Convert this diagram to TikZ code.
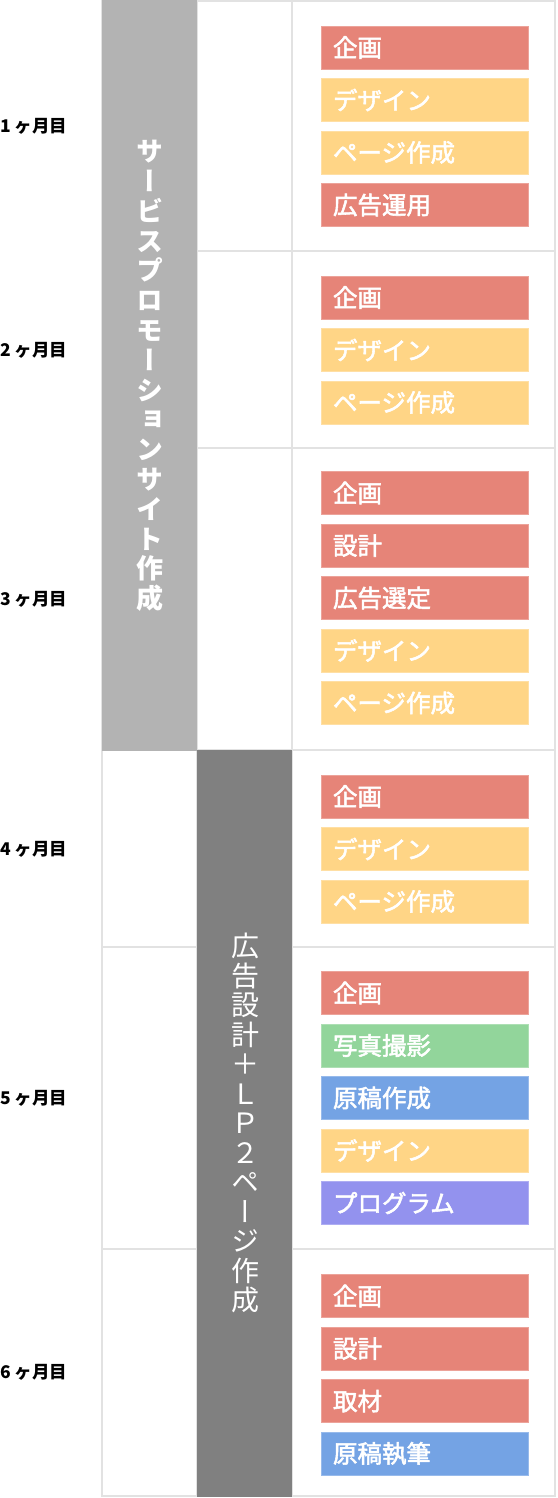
\documentclass[tikz,border=0pt]{standalone}
\usepackage{fontspec}
\newfontfamily\jp{Noto Sans CJK JP}
\newfontfamily\jpm{Noto Sans CJK JP}[FakeBold=2.2]
\newfontfamily\jpv[RawFeature=+vert]{Noto Sans CJK JP}
\definecolor{gridc}{HTML}{E2E2E2}
\definecolor{lgray}{HTML}{B3B3B3}
\definecolor{dgray}{HTML}{808080}
\definecolor{cred}{HTML}{E68478}
\definecolor{cyel}{HTML}{FFD586}
\definecolor{cgrn}{HTML}{92D59B}
\definecolor{cblu}{HTML}{74A3E4}
\definecolor{cpur}{HTML}{9392EE}
\tikzset{
  gridline/.style={draw=gridc, line width=2pt},
  taskbox/.style={fill=#1, draw=#1!75!white, line width=0.8pt, text=white,
    minimum height=43pt, text width=183pt, inner xsep=12pt, inner ysep=0pt,
    align=left, font=\jpm\fontsize{24.5}{27}\selectfont},
  month/.style={anchor=west, inner sep=0pt, font=\jp\bfseries\fontsize{17.5}{19}\selectfont},
  vtext/.style={text=white, align=center, inner sep=0pt}
}
\begin{document}
\begin{tikzpicture}[x=1pt,y=-1pt]
\useasboundingbox (0,0) rectangle (557,1498);
% grid
\draw[gridline] (102,1) rectangle (555,1496);
\draw[gridline] (197,1) -- (197,1496);
\draw[gridline] (292,1) -- (292,1496);
\draw[gridline] (197,251) -- (555,251);
\draw[gridline] (197,448) -- (555,448);
\draw[gridline] (102,750) -- (555,750);
\draw[gridline] (102,947) -- (555,947);
\draw[gridline] (102,1249) -- (555,1249);
% phase blocks
\fill[lgray] (102,0) rectangle (197,751);
\fill[dgray] (197,750) rectangle (292,1497);
\node[vtext, font=\jpv\bfseries\fontsize{27}{29.8}\selectfont] (p1) at (150,376)
  {サ\\ー\\ビ\\ス\\プ\\ロ\\モ\\ー\\シ\\ョ\\ン\\サ\\イ\\ト\\作\\成};
\node[vtext, font=\jpv\fontsize{28}{29.5}\selectfont] (p2) at (245,1123)
  {広\\告\\設\\計\\＋\\Ｌ\\Ｐ\\２\\ペ\\ー\\ジ\\作\\成};
% month labels
\node[month] (m1) at (0,126) {1 ヶ月目};
\node[month] (m2) at (0,350) {2 ヶ月目};
\node[month] (m3) at (0,599.5) {3 ヶ月目};
\node[month] (m4) at (0,849) {4 ヶ月目};
\node[month] (m5) at (0,1098) {5 ヶ月目};
\node[month] (m6) at (0,1372.5) {6 ヶ月目};
% month 1
\node[taskbox=cred] (a1) at (424.5,47.5) {企画};
\node[taskbox=cyel] (a2) at (424.5,100) {デザイン};
\node[taskbox=cyel] (a3) at (424.5,152.5) {ページ作成};
\node[taskbox=cred] (a4) at (424.5,205) {広告運用};
% month 2
\node[taskbox=cred] (b1) at (424.5,297.5) {企画};
\node[taskbox=cyel] (b2) at (424.5,350) {デザイン};
\node[taskbox=cyel] (b3) at (424.5,402.5) {ページ作成};
% month 3
\node[taskbox=cred] (c1) at (424.5,493) {企画};
\node[taskbox=cred] (c2) at (424.5,545.5) {設計};
\node[taskbox=cred] (c3) at (424.5,598) {広告選定};
\node[taskbox=cyel] (c4) at (424.5,650.5) {デザイン};
\node[taskbox=cyel] (c5) at (424.5,703) {ページ作成};
% month 4
\node[taskbox=cred] (d1) at (424.5,796.5) {企画};
\node[taskbox=cyel] (d2) at (424.5,849) {デザイン};
\node[taskbox=cyel] (d3) at (424.5,901.5) {ページ作成};
% month 5
\node[taskbox=cred] (e1) at (424.5,993) {企画};
\node[taskbox=cgrn] (e2) at (424.5,1045.5) {写真撮影};
\node[taskbox=cblu] (e3) at (424.5,1098) {原稿作成};
\node[taskbox=cyel] (e4) at (424.5,1150.5) {デザイン};
\node[taskbox=cpur] (e5) at (424.5,1203) {プログラム};
% month 6
\node[taskbox=cred] (f1) at (424.5,1296) {企画};
\node[taskbox=cred] (f2) at (424.5,1348.5) {設計};
\node[taskbox=cred] (f3) at (424.5,1401) {取材};
\node[taskbox=cblu] (f4) at (424.5,1453.5) {原稿執筆};
\end{tikzpicture}
\end{document}
